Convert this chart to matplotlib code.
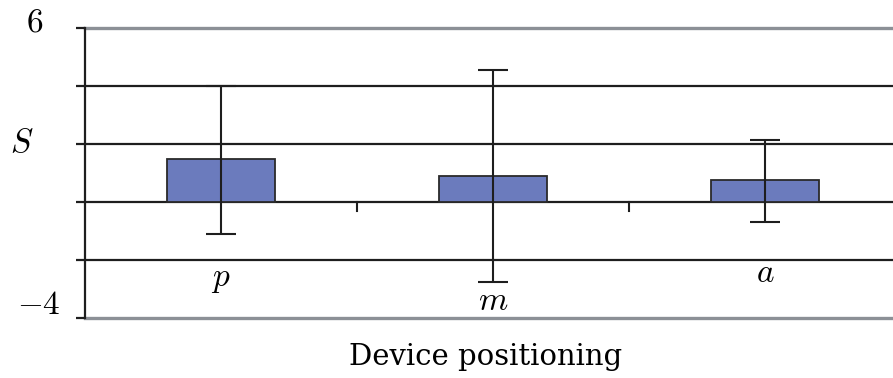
import matplotlib.pyplot as plt
import numpy as np

plt.rcParams['mathtext.fontset'] = 'cm'
plt.rcParams['font.family'] = ['DejaVu Serif']

# data
categories = ['$p$', '$m$', '$a$']
means = [1.5, 0.9, 0.75]
err_top = [4.0, 4.55, 2.15]
err_bottom = [-1.1, -2.75, -0.7]
label_y = [-2.65, -3.4, -2.45]
grid_levels = [4, 2, 0, -2]

x = np.arange(len(categories))
lower = [m - b for m, b in zip(means, err_bottom)]
upper = [t - m for m, t in zip(means, err_top)]

fig = plt.figure(figsize=(8.93, 3.78), dpi=100)
ax = fig.add_axes([85 / 893, 60 / 378, 816 / 893, 290 / 378])

ax.set_xlim(-0.5, 2.5)
ax.set_ylim(-4, 6)

for g in grid_levels:
    ax.axhline(g, color='#1e1e1e', lw=1.6, zorder=1)
ax.axhline(6, color='#8c9096', lw=2.4, zorder=1, clip_on=False)
ax.axhline(-4, color='#8c9096', lw=2.4, zorder=1, clip_on=False)

ax.bar(x, means, width=0.4, color='#6b7bbd', edgecolor='#2a2a2a', lw=1.3, zorder=2)
ax.errorbar(x, means, yerr=[lower, upper], fmt='none', ecolor='#1e1e1e',
            elinewidth=1.5, capsize=11, capthick=1.5, zorder=3)

# category boundary ticks at y = 0
for b in [0.5, 1.5]:
    ax.plot([b, b], [0, -0.3], color='#1e1e1e', lw=1.5, zorder=1)

for xi, lab, ly in zip(x, categories, label_y):
    ax.text(xi, ly, lab, ha='center', va='center', fontsize=24)

for s in ['top', 'right', 'bottom']:
    ax.spines[s].set_visible(False)
ax.spines['left'].set_color('#1e1e1e')
ax.spines['left'].set_linewidth(1.6)
ax.set_xticks([])
ax.set_yticks([-4, -2, 0, 2, 4, 6])
ax.set_yticklabels([])
ax.tick_params(axis='y', length=6.5, width=1.6, color='#1e1e1e')

yt = ax.get_yaxis_transform()
ax.text(-50 / 816, 6.2, '$6$', transform=yt, ha='center', va='center', fontsize=24)
ax.text(-24 / 816, -3.55, '$-4$', transform=yt, ha='right', va='center', fontsize=24)
ax.text(-63 / 816, 2.05, '$S$', transform=yt, ha='center', va='center', fontsize=24)

fig.text(486 / 893, 1 - 357 / 378, 'Device positioning', ha='center', va='center',
         fontsize=21)

fig.savefig('out.png', dpi=100)
